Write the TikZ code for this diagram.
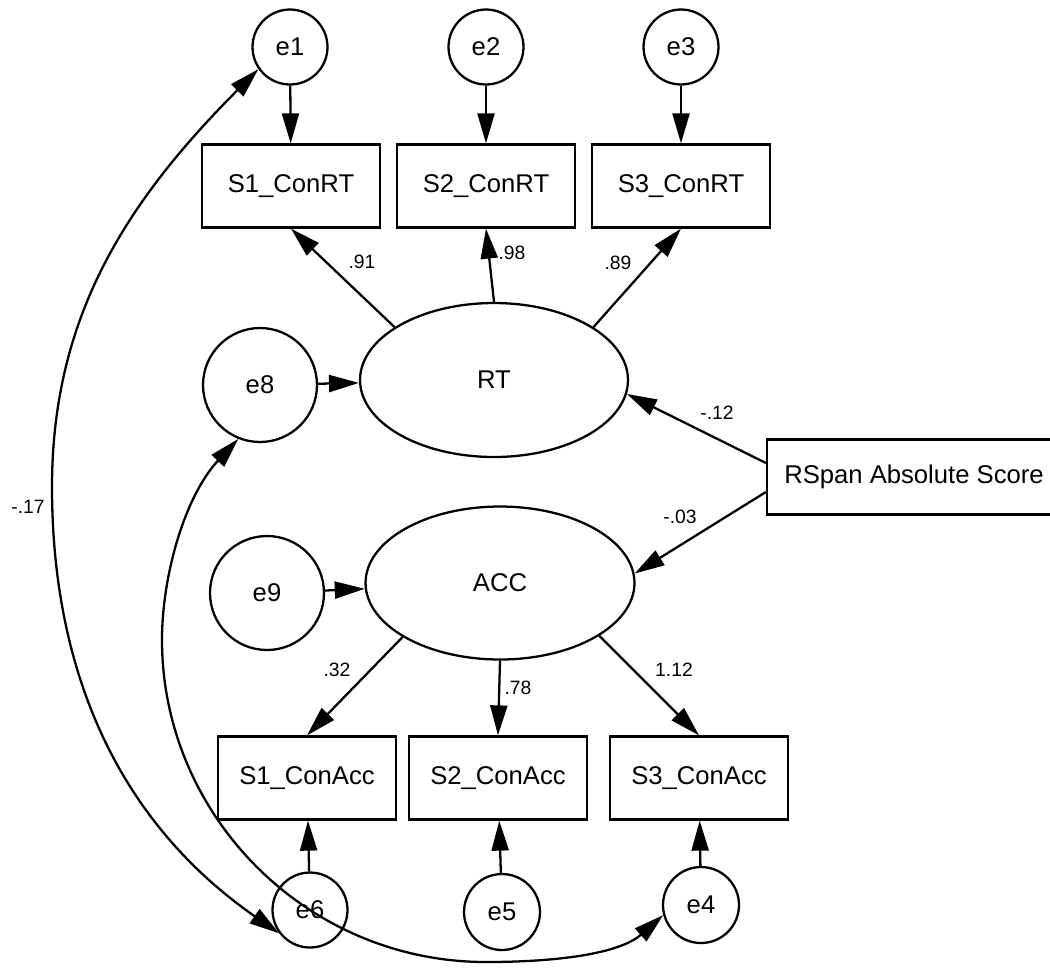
\documentclass[tikz,border=0pt]{standalone}
\usepackage{fontspec}
\setmainfont{Liberation Sans}
\usetikzlibrary{arrows.meta,shapes.geometric}

\begin{document}
\begin{tikzpicture}[x=0.02cm,y=-0.02cm,
  line width=1.3pt,
  nodefont/.style={font=\fontsize{14.6}{17}\selectfont},
  obs/.style={draw, rectangle, minimum width=3.56cm, minimum height=1.66cm, inner sep=0pt, nodefont},
  err/.style={draw, circle, minimum size=1.5cm, inner sep=0pt, nodefont},
  bigerr/.style={err, minimum size=2.28cm},
  lat/.style={draw, ellipse, minimum width=5.36cm, minimum height=3.08cm, inner sep=0pt, nodefont},
  onearrow/.style={-{Triangle[length=0.6cm,width=0.34cm]}},
  twoarrow/.style={{Triangle[length=0.6cm,width=0.34cm]}-{Triangle[length=0.6cm,width=0.34cm]}},
  coef/.style={font=\fontsize{11}{13}\selectfont, inner sep=0pt}
]
\useasboundingbox (0,0) rectangle (1050,968);

% error terms of the RT indicators
\node[err] (e1) at (290,47) {e1};
\node[err] (e2) at (486,47) {e2};
\node[err] (e3) at (681,47) {e3};

% RT indicators
\node[obs] (S1RT) at (291,186) {S1\_ConRT};
\node[obs] (S2RT) at (486,186) {S2\_ConRT};
\node[obs] (S3RT) at (681,186) {S3\_ConRT};

% latent factors and their disturbances
\node[lat] (RT) at (494,380) {RT};
\node[bigerr] (e8) at (260,385) {e8};
\node[lat, minimum width=5.38cm, minimum height=3.06cm] (ACC) at (500,583) {ACC};
\node[bigerr] (e9) at (267,593) {e9};

% predictor
\node[obs, minimum width=5.88cm, minimum height=1.5cm] (RSpan) at (914,477) {RSpan Absolute Score};

% accuracy indicators
\node[obs] (S1A) at (307,778) {S1\_ConAcc};
\node[obs] (S2A) at (498,778) {S2\_ConAcc};
\node[obs] (S3A) at (699,778) {S3\_ConAcc};

% error terms of the accuracy indicators
\node[err] (e6) at (310,910) {e6};
\node[err, minimum size=1.52cm] (e5) at (502,912) {e5};
\node[err, minimum size=1.52cm] (e4) at (701,905) {e4};

% measurement errors
\draw[onearrow] (e1) -- (S1RT);
\draw[onearrow] (e2) -- (S2RT);
\draw[onearrow] (e3) -- (S3RT);
\draw[onearrow] (e6) -- (S1A);
\draw[onearrow] (e5) -- (S2A);
\draw[onearrow] (e4) -- (S3A);

% loadings
\draw[onearrow] (RT.152) -- (S1RT.south);
\draw[onearrow] (RT.north) -- (S2RT.south);
\draw[onearrow] (RT.28) -- (S3RT.south);
\draw[onearrow] (ACC.209) -- (S1A.north);
\draw[onearrow] (ACC.south) -- (S2A.north);
\draw[onearrow] (ACC.332) -- (S3A.north);

% disturbances
\draw[onearrow] (e8) -- (RT);
\draw[onearrow] (e9) -- (ACC);

% regressions
\draw[onearrow] ([yshift=0.28cm]RSpan.west) -- (RT.354);
\draw[onearrow] ([yshift=-0.3cm]RSpan.west) -- (ACC.4);

% covariances
\draw[twoarrow] (e1.215) .. controls (126,202) and (52,317) .. (52,487)
  .. controls (52,667) and (115,819) .. (e6.217);
\draw[twoarrow] (e8.248) .. controls (185,496) and (162,575) .. (162,640)
  .. controls (162,815) and (306,962) .. (486,962)
  .. controls (556,962) and (619,954) .. (e4.195);

% coefficients
\node[coef] (c91) at (362,262) {.91};
\node[coef] (c98) at (512,253) {.98};
\node[coef] (c89) at (618,263) {.89};
\node[coef] (c12) at (717,413) {-.12};
\node[coef] (c03) at (680,517) {-.03};
\node[coef] (c32) at (337,670) {.32};
\node[coef] (c78) at (518,688) {.78};
\node[coef] (c112) at (674,670) {1.12};
\node[coef] (c17) at (28,507) {-.17};
\end{tikzpicture}
\end{document}
